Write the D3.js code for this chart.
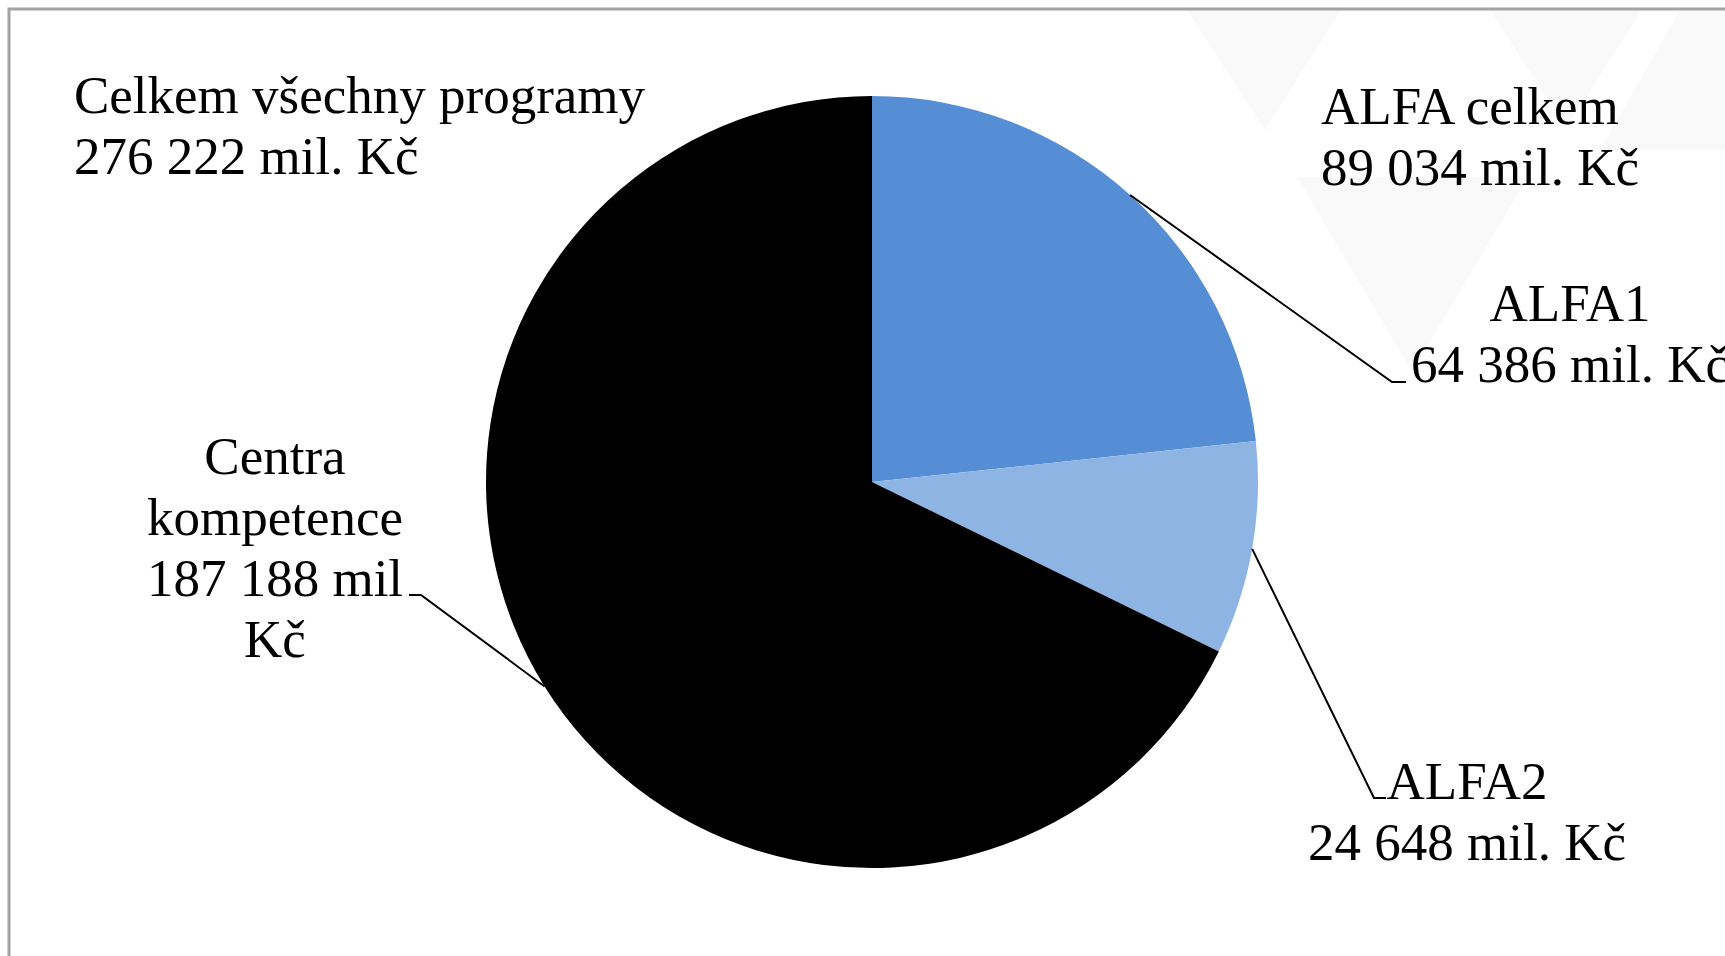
<!DOCTYPE html>
<html>
<head>
<meta charset="utf-8">
<script src="https://cdn.jsdelivr.net/npm/d3@7"></script>
<style>
  body { margin: 0; background: #fff; }
  text { font-family: "Liberation Serif", "Times New Roman", serif; font-size: 53px; fill: #000; }
</style>
</head>
<body>
<svg id="chart" width="1725" height="956"></svg>
<script>
// data
const categories = ["ALFA1", "ALFA2", "Centra kompetence"];
const values = [64386, 24648, 187188];
const colors = ["#558ed5", "#8eb4e3", "#000000"];
const alfaGroup = ["ALFA1", "ALFA2"];

const svg = d3.select("#chart");
const width = +svg.attr("width");
const height = +svg.attr("height");

const fmt = v => d3.format(",")(v).replace(/,/g, " ");

const cx = 872, cy = 482, radius = 386;

// faint watermark triangles in the background
const marks = [
  [[1187, 10], [1341, 10], [1265, 130]],
  [[1490, 10], [1642, 10], [1566, 128]],
  [[1297, 177], [1528, 177], [1412, 372]],
  [[1680, 10], [1725, 10], [1725, 150], [1600, 150]]
];
svg.append("g").selectAll("polygon")
  .data(marks)
  .enter()
  .append("polygon")
  .attr("points", d => d.map(p => p.join(",")).join(" "))
  .attr("fill", "#f9f9f9");

// frame
svg.append("rect")
  .attr("x", 9).attr("y", 9)
  .attr("width", width + 20).attr("height", height + 20)
  .attr("fill", "none")
  .attr("stroke", "#a3a3a3")
  .attr("stroke-width", 3);

const pie = d3.pie().sort(null).value(d => d.value);
const arcs = pie(categories.map((c, i) => ({name: c, value: values[i], color: colors[i]})));

const arc = d3.arc().innerRadius(0).outerRadius(radius);

const g = svg.append("g").attr("transform", `translate(${cx},${cy})`);

g.selectAll("path.slice")
  .data(arcs)
  .enter()
  .append("path")
  .attr("class", "slice")
  .attr("d", arc)
  .attr("fill", d => d.data.color);

// label layout (page coordinates): text lines, anchor, elbow of leader line
const layout = {
  "ALFA1": {x: 1570, y: 321, anchor: "middle", elbow: [1392, 382], end: [1406, 382]},
  "ALFA2": {x: 1467, y: 799, anchor: "middle", elbow: [1374, 798], end: [1386, 798]},
  "Centra kompetence": {x: 275, y: 474, anchor: "middle", elbow: [421, 595], end: [409, 595]}
};
const lineH = 61;

function labelLines(d) {
  if (d.data.name === "Centra kompetence") {
    const v = fmt(d.data.value);
    return ["Centra", "kompetence", v + " mil", "Kč"];
  }
  return [d.data.name, fmt(d.data.value) + " mil. Kč"];
}

// leader lines from the middle of each slice's outer edge
svg.append("g").selectAll("path.leader")
  .data(arcs)
  .enter()
  .append("path")
  .attr("class", "leader")
  .attr("d", d => {
    const a = (d.startAngle + d.endAngle) / 2;
    const p = [cx + radius * Math.sin(a), cy - radius * Math.cos(a)];
    const L = layout[d.data.name];
    return d3.line()([p, L.elbow, L.end]);
  })
  .attr("fill", "none")
  .attr("stroke", "#000")
  .attr("stroke-width", 2);

const labels = svg.append("g").selectAll("text.label")
  .data(arcs)
  .enter()
  .append("text")
  .attr("class", "label")
  .attr("text-anchor", d => layout[d.data.name].anchor);

labels.selectAll("tspan")
  .data(d => labelLines(d).map((t, i) => ({t, i, L: layout[d.data.name]})))
  .enter()
  .append("tspan")
  .attr("x", d => d.L.x)
  .attr("y", d => d.L.y + d.i * lineH)
  .text(d => d.t);

// totals
const total = d3.sum(values);
const alfaTotal = d3.sum(categories.map((c, i) => alfaGroup.includes(c) ? values[i] : 0));

const tot = svg.append("text");
tot.append("tspan").attr("x", 74).attr("y", 113).text("Celkem všechny programy");
tot.append("tspan").attr("x", 74).attr("y", 174).text(fmt(total) + " mil. Kč");

const alfa = svg.append("text");
alfa.append("tspan").attr("x", 1321).attr("y", 124).text("ALFA celkem");
alfa.append("tspan").attr("x", 1321).attr("y", 185).text(fmt(alfaTotal) + " mil. Kč");
</script>
</body>
</html>
